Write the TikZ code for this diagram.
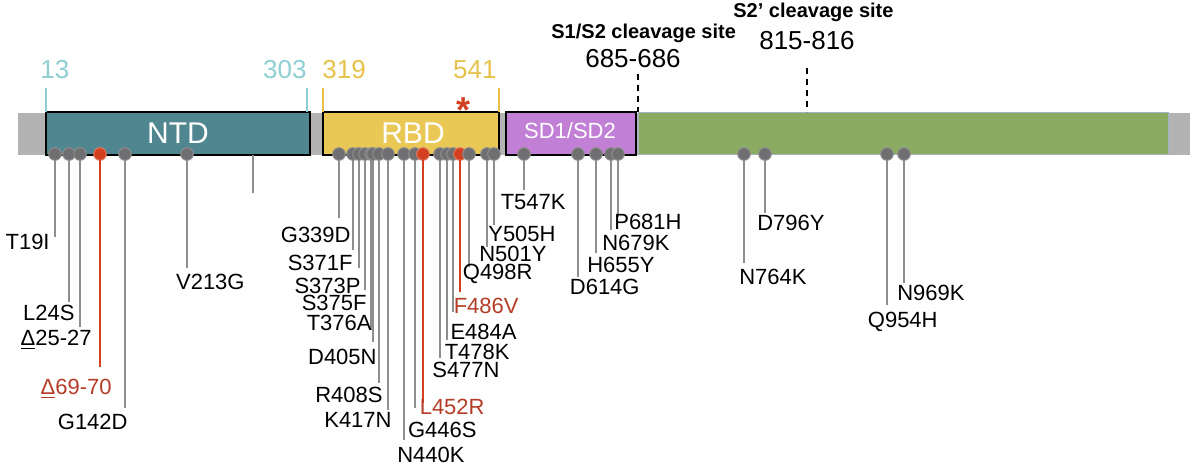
\documentclass[tikz,border=0pt]{standalone}
\usepackage{fontspec}
\setmainfont{Liberation Sans}
\usepackage{tikz}
\definecolor{barcol}{HTML}{B3B3B3}
\definecolor{ntdcol}{HTML}{50868F}
\definecolor{rbdcol}{HTML}{EAC856}
\definecolor{sdcol}{HTML}{C27FD6}
\definecolor{stwocol}{HTML}{8BAA62}
\definecolor{stwoline}{HTML}{A5B2C2}
\definecolor{ntdtick}{HTML}{8ECFD3}
\definecolor{rbdtick}{HTML}{E6C24A}
\definecolor{mutgray}{HTML}{8E8E8E}
\definecolor{headgray}{HTML}{6F6F71}
\definecolor{mutred}{HTML}{D2401F}
\definecolor{labred}{HTML}{B53C27}
\colorlet{gstem}{mutgray}
\colorlet{rstem}{mutred}
\colorlet{gtext}{black}
\colorlet{rtext}{labred}
\tikzstyle{domainbox}=[draw=black, line width=1pt]
\tikzstyle{domlabel}=[text=white, inner sep=0, anchor=base, font=\fontsize{15}{15}\selectfont]
\tikzstyle{boundtick}=[line width=0.8pt]
\tikzstyle{ticklabel}=[inner sep=0, font=\fontsize{13}{13}\selectfont]
\tikzstyle{muthead}=[circle, inner sep=0, outer sep=0, minimum size=6.3pt, line width=0.5pt]
\tikzstyle{ghead}=[muthead, fill=headgray, draw=mutgray]
\tikzstyle{rhead}=[muthead, fill=mutred, draw=mutred!70]
\tikzstyle{mutstem}=[line width=1pt]
\tikzstyle{mutlabel}=[inner sep=0, anchor=base east, font=\fontsize{11}{11}\selectfont]
\tikzstyle{cleave}=[draw=black, line width=1pt, dash pattern=on 3pt off 2.5pt]
\tikzstyle{cleavetitle}=[inner sep=0, anchor=base west, font=\bfseries\fontsize{10}{10}\selectfont]
\tikzstyle{cleavesite}=[inner sep=0, anchor=base, font=\fontsize{13}{13}\selectfont]
% #1 g or r, #2 name, #3 x, #4 stem end, #5 label right, #6 label baseline, #7 text
\newcommand{\mutation}[7]{%
  \node[#1head] (h#2) at (#3, 154) {};
  \coordinate (e#2) at (#3, #4);
  \draw[mutstem, draw=#1stem] (h#2) -- (e#2);
  \node[mutlabel, text=#1text] (l#2) at (#5, #6) {#7};
}
\newcommand{\dl}{\underline{Δ}}

\begin{document}
\begin{tikzpicture}[x=0.5pt, y=-0.5pt]
    \useasboundingbox (0, 0) rectangle (1200, 475);
    % protein bar
    \fill[barcol] (18, 113) rectangle (1190, 155);
    \draw[domainbox, fill=ntdcol] (46, 112) rectangle (310, 155);
    \draw[domainbox, fill=rbdcol] (323, 112) rectangle (499, 155);
    \draw[domainbox, fill=sdcol] (506, 112) rectangle (636, 155);
    \draw[fill=stwocol, draw=stwoline, line width=0.5pt] (638, 113) rectangle (1168, 155);
    \node[domlabel] (NTD) at (178, 144) {NTD};
    \node[domlabel] (RBD) at (413, 144) {RBD};
    \node[domlabel, font=\fontsize{11}{11}\selectfont] (SD) at (570, 139) {SD1/SD2};
    % domain bounds
    \coordinate (t13) at (46, 88);
    \coordinate (t303) at (307, 88);
    \coordinate (t319) at (323, 88);
    \coordinate (t541) at (499, 88);
    \draw[boundtick, ntdtick] (t13) -- +(0, 24);
    \draw[boundtick, ntdtick] (t303) -- +(0, 24);
    \draw[boundtick, rbdtick] (t319) -- +(0, 24);
    \draw[boundtick, rbdtick] (t541) -- +(0, 24);
    \node[ticklabel, text=ntdtick, anchor=base west] (n13) at (40, 79) {13};
    \node[ticklabel, text=ntdtick, anchor=base east] (n303) at (307, 79) {303};
    \node[ticklabel, text=rbdtick, anchor=base west] (n319) at (322, 79) {319};
    \node[ticklabel, text=rbdtick, anchor=base east] (n541) at (497, 79) {541};
    \node[inner sep=0, anchor=base, text=mutred, font=\bfseries\fontsize{18}{18}\selectfont] (star) at (463, 123) {*};
    % cleavage sites
    \node[cleavetitle] (s1s2) at (551, 39) {S1/S2 cleavage site};
    \node[cleavesite] (c685) at (633, 68) {685-686};
    \node[cleavetitle] (s2p) at (733, 18) {S2’ cleavage site};
    \node[cleavesite] (c815) at (807, 50) {815-816};
    \coordinate (d685) at (638, 74);
    \coordinate (d815) at (807, 68);
    \draw[cleave] (d685) -- (638, 112);
    \draw[cleave] (d815) -- (807, 112);
    % mutations
    \coordinate (blanktop) at (253, 155);
    \coordinate (blankbot) at (253, 193);
    \draw[mutstem, draw=mutgray] (blanktop) -- (blankbot);
    \mutation{g}{T19I}{55}{237}{50}{250}{T19I}
    \mutation{g}{L24S}{69}{302}{75}{321}{L24S}
    \mutation{g}{D25}{80}{327}{92}{346}{\dl25-27}
    \mutation{r}{D69}{100}{367}{112}{395}{\dl69-70}
    \mutation{g}{G142D}{125}{408}{128}{430}{G142D}
    \mutation{g}{V213G}{187}{268}{245}{290}{V213G}
    \mutation{g}{G339D}{339}{218}{351}{243}{G339D}
    \mutation{g}{S371F}{353}{250}{353}{271}{S371F}
    \mutation{g}{S373P}{359}{268}{361}{294}{S373P}
    \mutation{g}{S375F}{365}{290}{367}{311}{S375F}
    \mutation{g}{T376A}{371}{330}{372}{331}{T376A}
    \mutation{g}{D405N}{373}{342}{377}{365}{D405N}
    \mutation{g}{R408S}{379}{383}{383}{403}{R408S}
    \mutation{g}{K417N}{388}{410}{392}{428}{K417N}
    \mutation{g}{N440K}{404}{440}{465}{463}{N440K}
    \mutation{g}{G446S}{415}{408}{477}{438}{G446S}
    \mutation{r}{L452R}{423}{403}{485}{415}{L452R}
    \mutation{g}{S477N}{440}{358}{500}{378}{S477N}
    \mutation{g}{T478K}{447}{340}{510}{360}{T478K}
    \mutation{g}{E484A}{453}{312}{517}{340}{E484A}
    \mutation{r}{F486V}{460}{292}{519}{314}{F486V}
    \mutation{g}{Q498R}{469}{267}{533}{280}{Q498R}
    \mutation{g}{N501Y}{487}{247}{547}{262}{N501Y}
    \mutation{g}{Y505H}{494}{225}{556}{242}{Y505H}
    \mutation{g}{T547K}{524}{190}{566}{210}{T547K}
    \mutation{g}{D614G}{578}{277}{640}{295}{D614G}
    \mutation{g}{H655Y}{596}{253}{655}{273}{H655Y}
    \mutation{g}{N679K}{611}{230}{670}{251}{N679K}
    \mutation{g}{P681H}{618}{217}{682}{230}{P681H}
    \mutation{g}{N764K}{744}{263}{807}{285}{N764K}
    \mutation{g}{D796Y}{765}{213}{825}{231}{D796Y}
    \mutation{g}{Q954H}{887}{305}{938}{328}{Q954H}
    \mutation{g}{N969K}{904}{283}{965}{301}{N969K}
\end{tikzpicture}
\end{document}
